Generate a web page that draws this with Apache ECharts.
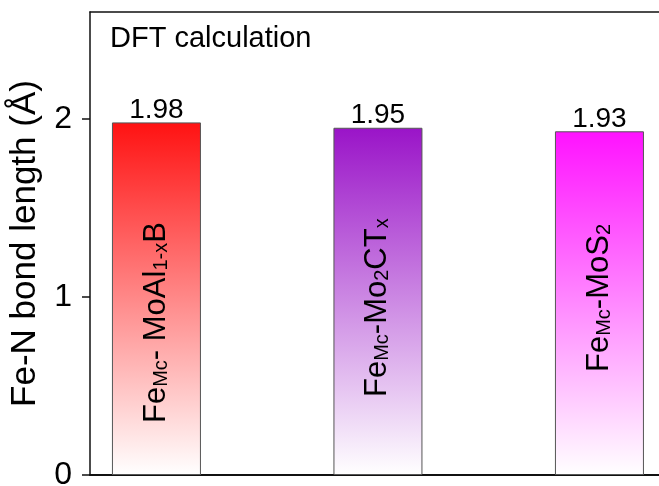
<!DOCTYPE html>
<html>
<head>
<meta charset="utf-8">
<script src="https://cdn.jsdelivr.net/npm/echarts@6/dist/echarts.min.js"></script>
<style>
html,body{margin:0;padding:0;background:#fff;}
#chart{width:659px;height:486px;}
</style>
</head>
<body>
<div id="chart"></div>
<script>
// data
var categories = ['FeMc- MoAl1-xB', 'FeMc-Mo2CTx', 'FeMc-MoS2'];
var richNames = [
    '{m|Fe}{s|Mc}{m|- MoAl}{s|1-x}{m|B}',
    '{m|Fe}{s|Mc}{m|-Mo}{s|2}{m|CT}{s|x}',
    '{m|Fe}{s|Mc}{m|-MoS}{s|2}'
];
var bondLength = [1.98, 1.95, 1.93];
var yTicks = [0, 1, 2];

// styling
var topColors = ['#ff1212', '#9a14c8', '#ff12ff'];
var nameGapFromFoot = [52, 78, 103];   // where the rotated name starts
var FONT = '"Liberation Sans", Arial, sans-serif';

var chart = echarts.init(document.getElementById('chart'));

var barData = bondLength.map(function (v, i) {
    return {
        name: categories[i],
        value: [i + 1, v],
        itemStyle: {
            color: new echarts.graphic.LinearGradient(0, 0, 0, 1, [
                {offset: 0, color: topColors[i]},
                {offset: 1, color: '#ffffff'}
            ])
        }
    };
});

// offset is in the rotated frame: +x goes up the bar
var nameData = bondLength.map(function (v, i) {
    return {
        name: categories[i],
        value: [i + 1, v],
        label: {offset: [nameGapFromFoot[i], 0]}
    };
});

var option = {
    animation: false,
    grid: {
        show: false,
        outerBoundsMode: 'none',
        left: 90, top: 12, right: 0, height: 463
    },
    xAxis: [
        {
            type: 'value', min: 0.7, max: 3.2689,
            axisLine: {show: true, lineStyle: {color: '#111', width: 2}},
            axisTick: {show: false},
            axisLabel: {show: false},
            splitLine: {show: false}
        },
        {
            type: 'value', min: 0.7, max: 3.2689, position: 'top',
            axisLine: {show: true, lineStyle: {color: '#111', width: 1.5}},
            axisTick: {show: false},
            axisLabel: {show: false},
            splitLine: {show: false}
        }
    ],
    yAxis: {
        type: 'value', min: 0, max: 2.6,
        name: 'Fe-N bond length (Å)',
        nameLocation: 'middle',
        nameGap: 30,
        nameTextStyle: {fontSize: 35, color: '#000', fontFamily: FONT},
        axisLine: {show: true, lineStyle: {color: '#111', width: 1.5}},
        axisTick: {show: true, length: 8, customValues: yTicks, lineStyle: {color: '#111', width: 1.5}},
        axisLabel: {fontSize: 32, color: '#000', margin: 18, fontFamily: FONT, customValues: yTicks},
        splitLine: {show: false}
    },
    graphic: [{
        type: 'text',
        left: 110, top: 24,
        style: {text: 'DFT calculation', fontSize: 29, fill: '#000', fontFamily: FONT}
    }],
    series: [
        {
            type: 'bar',
            barWidth: 89,
            data: barData,
            itemStyle: {borderColor: '#555', borderWidth: 1},
            label: {
                show: true, position: 'top', distance: -2,
                fontSize: 28, color: '#000', fontFamily: FONT,
                formatter: function (p) { return p.value[1].toFixed(2); }
            }
        },
        {
            type: 'bar',
            barWidth: 89,
            barGap: '-100%',
            data: nameData,
            itemStyle: {color: 'transparent', borderWidth: 0},
            label: {
                show: true,
                position: ['50%', '100%'],
                rotate: 90,
                align: 'left',
                verticalAlign: 'middle',
                fontFamily: FONT,
                color: '#000',
                formatter: function (p) { return richNames[p.dataIndex]; },
                rich: {
                    m: {fontSize: 31, lineHeight: 30, verticalAlign: 'middle', color: '#000', fontFamily: FONT},
                    s: {fontSize: 20, lineHeight: 6, verticalAlign: 'bottom', color: '#000', fontFamily: FONT}
                }
            }
        }
    ]
};

chart.setOption(option);
</script>
</body>
</html>
